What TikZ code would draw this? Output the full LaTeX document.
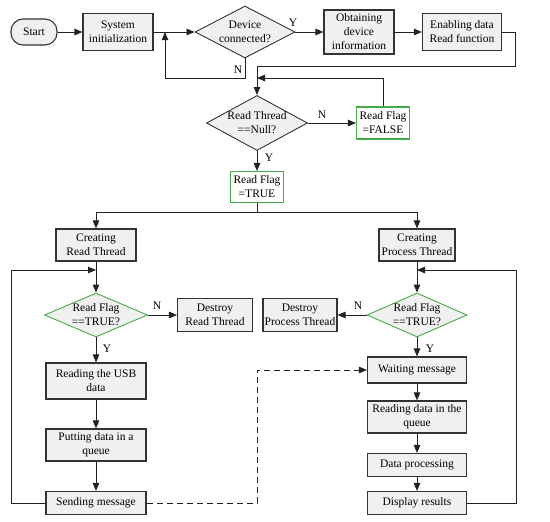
\documentclass[tikz,border=0pt]{standalone}
\usepackage{fontspec}
\setmainfont{Liberation Serif}
\usepackage{tikz}
\usetikzlibrary{shapes, arrows.meta, calc, positioning}

\definecolor{boxfill}{RGB}{240,240,240}
\definecolor{flaggreen}{RGB}{72,170,72}
\definecolor{linegray}{RGB}{34,34,34}

\begin{document}
\begin{tikzpicture}[x=1pt, y=-1pt, >={Triangle[length=8pt, width=6.5pt]},
  every node/.style={font=\fontsize{11.5}{14}\selectfont, align=center, inner sep=1pt},
  line/.style={draw=linegray, line width=0.9pt},
  procbox/.style={rectangle, draw=black!80, line width=1.1pt, fill=boxfill},
  flagbox/.style={rectangle, draw=flaggreen, line width=1.1pt, fill=white},
  decision/.style={diamond, draw=black!80, line width=0.9pt, fill=boxfill, inner sep=-12pt},
  flagdecision/.style={diamond, draw=flaggreen, line width=0.9pt, fill=boxfill, inner sep=-12pt},
  terminal/.style={rectangle, rounded corners=12pt, draw=black!80, line width=1.1pt, fill=boxfill}]
  \useasboundingbox (0,0) rectangle (550,522);

  \node[terminal, minimum width=46pt, minimum height=26pt] (start) at (34,32) {Start};
  \node[procbox, minimum width=70pt, minimum height=37pt] (init) at (118,32) {System\\initialization};
  \node[decision, minimum width=100pt, minimum height=52pt] (conn) at (245,32) {Device\\connected?};
  \node[procbox, minimum width=70pt, minimum height=44pt] (info) at (359,32) {Obtaining\\device\\information};
  \node[procbox, minimum width=79pt, minimum height=37pt] (enable) at (462,32) {Enabling data\\Read function};

  \node[decision, minimum width=101pt, minimum height=55pt] (nullq) at (257,123) {Read Thread\\==Null?};
  \node[flagbox, minimum width=53pt, minimum height=32pt] (false) at (383,123) {Read Flag\\=FALSE};
  \node[flagbox, minimum width=53pt, minimum height=31pt] (true) at (257,187) {Read Flag\\=TRUE};

  \node[procbox, minimum width=80pt, minimum height=32pt] (crread) at (96,245) {Creating\\Read Thread};
  \node[procbox, minimum width=76pt, minimum height=32pt] (crproc) at (417,245) {Creating\\Process Thread};

  \node[flagdecision, minimum width=103pt, minimum height=44pt] (flagl) at (96,315) {Read Flag\\==TRUE?};
  \node[procbox, minimum width=75pt, minimum height=33pt] (dstread) at (215,315) {Destroy\\Read Thread};
  \node[procbox, minimum width=74pt, minimum height=33pt] (dstproc) at (300,315) {Destroy\\Process Thread};
  \node[flagdecision, minimum width=100pt, minimum height=44pt] (flagr) at (417,315) {Read Flag\\==TRUE?};

  \node[procbox, minimum width=100pt, minimum height=36pt] (usb) at (96,381) {Reading the USB\\data};
  \node[procbox, minimum width=100pt, minimum height=32pt] (queue) at (96,445) {Putting data in a\\queue};
  \node[procbox, minimum width=100pt, minimum height=23pt] (send) at (96,503) {Sending message};

  \node[procbox, minimum width=99pt, minimum height=26pt] (wait) at (417,370) {Waiting message};
  \node[procbox, minimum width=99pt, minimum height=32pt] (rdq) at (417,417) {Reading data in the\\queue};
  \node[procbox, minimum width=99pt, minimum height=23pt] (dproc) at (417,465) {Data processing};
  \node[procbox, minimum width=99pt, minimum height=23pt] (disp) at (417,503) {Display results};

  \coordinate (jinit) at (165,32);
  \coordinate (jnull) at (257,78);
  \coordinate (split) at (257,212);
  \coordinate (jread) at (96,270);
  \coordinate (jproc) at (417,270);

  \draw[line, ->] (start) -- (init);
  \draw[line, ->] (init) -- (conn);
  \draw[line, ->] (conn.south) -- (conn.south |- 0,78) -| (jinit);
  \node (n1) at (238,70) {N};
  \draw[line, ->] (conn) -- (info);
  \node (y1) at (293,23) {Y};
  \draw[line, ->] (info) -- (enable);
  \draw[line, ->] (enable.east) -- ++(13,0) |- (nullq.north |- 0,66) -- (nullq.north);

  \draw[line, ->] (nullq) -- (false);
  \node (n2) at (322,115) {N};
  \draw[line, ->] (false.north) |- (jnull);
  \draw[line, ->] (nullq) -- (true);
  \node (y2) at (269,158) {Y};

  \draw[line] (true.south) -- (split);
  \draw[line, ->] (split) -| (crread.north);
  \draw[line, ->] (split) -| (crproc.north);

  \draw[line, ->] (crread) -- (flagl);
  \draw[line, ->] (flagl) -- (dstread);
  \node (n3) at (157,306) {N};
  \draw[line, ->] (flagl) -- (usb);
  \node (y3) at (107,349) {Y};
  \draw[line, ->] (usb) -- (queue);
  \draw[line, ->] (queue) -- (send);
  \draw[line, ->] (send.west) -- ++(-34,0) |- (jread);

  \draw[line, ->] (crproc) -- (flagr);
  \draw[line, ->] (flagr) -- (dstproc);
  \node (n4) at (358,306) {N};
  \draw[line, ->] (flagr) -- (wait);
  \node (y4) at (430,349) {Y};
  \draw[line, ->] (wait) -- (rdq);
  \draw[line, ->] (rdq) -- (dproc);
  \draw[line, ->] (dproc) -- (disp);
  \draw[line, ->] (disp.east) -- ++(49,0) |- (jproc);

  \draw[line, ->, dash pattern=on 6.5pt off 3.5pt] (send.east) -- (send.east -| 257,0) |- (wait.west);
\end{tikzpicture}
\end{document}
